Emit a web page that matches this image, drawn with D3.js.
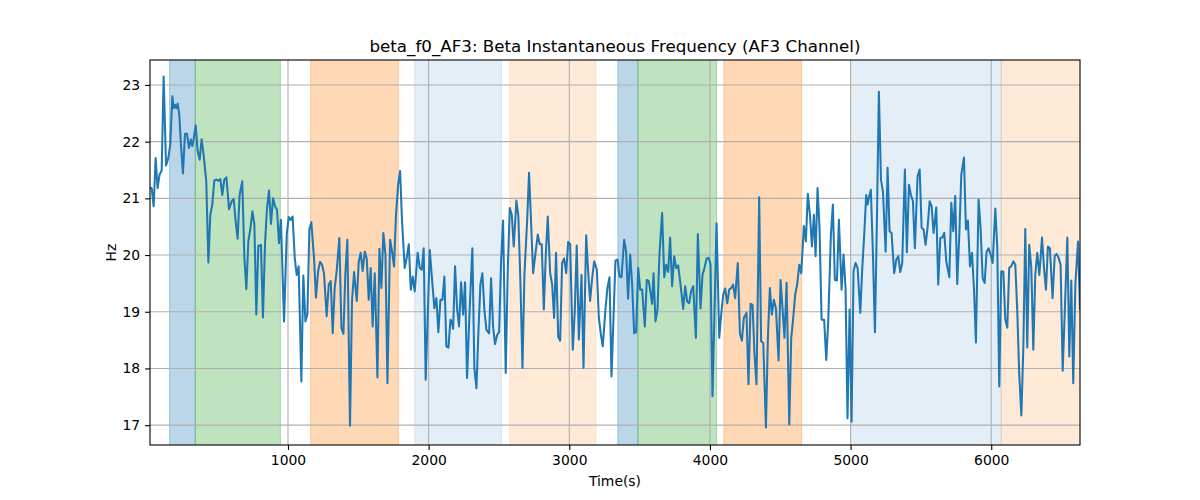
<!DOCTYPE html>
<html>
<head>
<meta charset="utf-8">
<script src="https://cdn.jsdelivr.net/npm/d3@7"></script>
<style>
  html, body { margin: 0; padding: 0; background: #fff; }
  svg { display: block; font-family: "DejaVu Sans", sans-serif; }
</style>
</head>
<body>
<svg id="chart" width="1200" height="500"></svg>
<script>
// ---------- data ----------
const times = [
  19,31,45,59,73,87,102,116,133,149,163,178,187,197,206,216,227,239,253,268,282,296,310,320,329,344,358,372,386,400,
  419,434,448,462,476,491,505,519,533,547,562,581,600,614,628,642,656,675,690,704,718,732,747,761,775,789,808,822,837,851,
  865,879,894,908,922,936,950,
  972,991,1005,1019,1033,1048,1062,1076,1095,1109,1124,1138,1152,1166,1185,1199,1214,1228,1242,1256,1275,1290,1304,1318,1332,1346,
  1365,1380,1394,1408,1422,1441,1455,1470,1489,1503,1517,1531,1546,1560,1574,1588,1602,1617,1636,1650,1664,1678,1693,1707,1726,1740,
  1754,1768,1783,1797,1811,1830,1844,1859,1873,1887,1901,
  1922,1937,1951,1965,1979,2008,2027,2041,2055,2069,2084,2098,2112,2126,2141,2155,2164,2174,2188,2202,2216,2231,2245,2259,2273,2292,
  2311,2325,2340,2354,2368,2382,2397,2411,2430,2444,2458,2472,2487,2501,2515,2529,2548,2563,2577,2591,2605,2624,2638,2653,2667,2681,
  2700,2714,2729,2743,2757,2776,2790,2804,2819,2833,2847,
  2864,2878,2892,2906,2921,2935,2949,2963,2978,2992,3006,3025,3039,3053,3068,3087,3101,3120,3134,3148,3162,3177,3196,3210,3224,3238,
  3257,3271,3286,3300,3314,3328,3343,3357,3371,3390,3404,3418,3433,3447,3461,3475,3490,3504,3518,3537,3551,3565,3580,3589,3599,3613,
  3627,3641,3660,3675,3689,3703,3717,3731,3746,3760,3774,3788,
  3810,3824,3838,3852,3866,3881,3900,3914,3933,3947,3961,3976,3990,4004,4018,4032,4047,4066,4080,4094,4108,4123,4137,4151,4165,4179,
  4198,4213,4227,4241,4260,4274,4289,4303,4317,4331,4350,4364,4379,4398,4412,4426,4440,4454,4469,4488,4502,4516,4530,4545,4564,4578,
  4592,4606,4620,4635,4649,4668,4682,4696,4711,4725,4739,
  4751,4765,4779,4794,4812,4827,4841,4860,4874,4888,4903,4917,4936,4950,4964,4978,4993,5007,5021,5035,5050,5069,5083,5097,5111,5121,
  5130,5144,5159,5173,5187,5201,5216,5230,5249,5263,5277,5291,5310,5325,5339,5353,5367,5386,5400,5415,5429,5443,5457,5476,5491,5505,
  5519,5533,5547,5562,5576,5590,5609,5623,5638,5652,5666,5680,
  5702,5716,5730,5744,5758,5773,5787,5806,5820,5834,5849,5863,5877,5891,5910,5924,5939,5953,5967,5981,5996,6010,6029,6043,6057,6071,
  6086,6100,6114,6128,6142,6157,6171,6185,6199,6214,6228,6242,6256,6270,6285,6299,6313,6327,6342,6361,6375,6389,6403,6417,6436,6451,
  6465,6479,6493,6508,6522,6541,6555,6569,6583,6598,6617,6631
];
const beta = [
  21.19,21.18,20.86,21.71,21.18,21.42,21.49,23.15,21.58,21.71,21.95,22.80,22.59,22.65,22.59,22.67,22.48,21.95,21.44,22.14,22.14,21.89,22.04,21.92,22.04,22.29,21.83,21.68,22.04,21.77,
  21.30,19.87,20.71,20.89,21.31,21.33,21.31,21.34,21.06,21.33,21.37,20.81,20.95,20.99,20.59,20.29,21.06,21.30,19.95,19.40,20.24,20.45,20.77,20.54,18.95,20.16,20.18,18.90,20.21,20.83,
  21.14,20.55,21.00,20.86,20.80,20.21,20.62,
  18.83,20.36,20.67,20.62,20.68,19.95,19.65,19.80,17.77,19.64,18.83,18.95,20.45,20.58,19.95,19.25,19.71,19.88,19.83,19.68,18.92,19.48,19.54,18.62,19.42,19.71,
  20.30,18.71,18.61,19.68,20.27,16.99,19.18,19.70,19.19,19.88,20.04,19.72,20.06,19.94,19.21,19.77,18.74,19.68,17.84,20.11,19.42,20.39,20.01,17.74,20.27,20.06,
  19.80,20.71,21.24,21.48,20.59,19.77,19.95,20.19,19.39,19.62,19.36,
  20.04,19.77,19.74,20.12,17.80,20.09,19.48,19.06,19.24,18.64,19.21,19.21,19.62,18.39,18.37,18.86,18.83,18.70,19.80,19.06,18.74,19.52,18.95,19.52,17.83,19.06,
  20.12,18.01,17.65,18.65,19.48,19.68,19.01,18.68,18.62,19.59,18.74,18.43,18.59,18.64,19.89,20.61,17.92,19.77,20.83,20.71,20.15,20.96,20.68,19.48,18.01,19.65,
  20.59,21.45,20.54,19.68,19.98,20.36,20.19,20.19,19.04,20.01,20.68,
  19.68,19.48,18.89,20.04,18.56,18.49,19.86,19.94,19.68,20.23,20.19,18.33,19.01,20.17,18.51,19.65,18.01,20.35,19.71,19.19,19.58,19.89,19.74,18.89,18.61,18.39,
  19.04,19.42,19.61,17.86,18.86,19.90,19.92,19.62,19.61,20.27,20.06,19.23,20.01,19.48,18.62,18.64,19.77,19.39,19.39,18.74,19.56,19.54,19.30,19.14,19.68,18.83,
  19.04,20.01,20.74,19.61,19.83,19.70,20.31,19.45,19.98,19.77,19.82,19.54,
  19.05,19.45,19.18,19.15,19.36,19.45,18.54,20.37,19.06,19.65,19.77,19.94,19.95,19.84,17.51,18.95,20.56,18.54,18.95,19.30,19.41,19.15,19.39,19.42,19.48,19.24,
  19.86,18.62,18.49,18.89,18.98,17.72,19.14,19.12,18.24,17.72,21.02,18.48,18.45,16.96,18.54,19.42,18.95,19.21,19.06,18.14,19.56,19.06,18.54,19.51,17.01,18.54,
  18.89,19.30,19.48,19.83,19.68,20.51,20.24,21.08,20.71,20.15,20.71,
  19.98,21.18,20.48,18.86,18.86,18.15,18.83,20.36,20.89,19.56,19.55,20.62,19.39,20.01,19.42,17.12,19.04,17.06,19.72,19.86,19.77,18.98,19.77,20.36,21.06,20.89,
  21.01,21.15,20.01,18.64,20.59,22.88,21.33,21.12,20.06,21.54,20.42,20.39,19.68,19.92,19.98,19.70,19.86,21.51,20.05,21.24,21.06,20.95,20.12,21.39,21.51,20.48,
  20.45,20.18,20.48,20.95,20.86,20.39,20.84,19.48,20.30,20.31,20.39,19.89,
  19.61,20.92,20.42,21.04,19.49,20.36,21.42,21.72,20.45,20.61,19.80,20.04,19.42,18.46,20.98,20.48,19.59,19.51,20.06,20.12,20.01,19.86,20.82,20.12,17.68,19.71,
  19.71,18.86,18.72,19.78,19.80,19.89,19.83,19.01,17.89,17.17,18.36,20.46,18.37,20.18,19.77,18.33,19.65,20.04,19.65,20.31,19.77,19.39,20.15,20.12,19.24,19.98,
  20.02,19.95,19.83,17.96,18.95,20.31,18.21,19.55,17.74,19.48,20.24,19.05
];

// shaded segments
const spanStarts = [158, 341, 1161, 1901, 2577, 3345, 3488, 4099, 5000, 6071];
const spanEnds   = [341, 946, 1785, 2518, 3189, 3488, 4047, 4652, 6071, 6700];
const spanKinds  = ["blue", "green", "orange", "paleBlue", "paleOrange", "blue", "green", "orange", "paleBlue", "paleOrange"];

const xTicks = [1000, 2000, 3000, 4000, 5000, 6000];
const yTicks = [17, 18, 19, 20, 21, 22, 23];

const titleText = "beta_f0_AF3: Beta Instantaneous Frequency (AF3 Channel)";
const xLabel = "Time(s)";
const yLabel = "Hz";

// ---------- styling ----------
const kindStyle = {
  blue:       { color: "#1f77b4", alpha: 0.3 },
  green:      { color: "#2ca02c", alpha: 0.3 },
  orange:     { color: "#ff7f0e", alpha: 0.3 },
  paleBlue:   { color: "#1f77b4", alpha: 0.12 },
  paleOrange: { color: "#ff7f0e", alpha: 0.16 }
};

const margin = { left: 150, right: 120, top: 60, bottom: 55 };
const W = 1200, H = 500;
const iw = W - margin.left - margin.right; // 930
const ih = H - margin.top - margin.bottom; // 385

const svg = d3.select("#chart");
const g = svg.append("g").attr("transform", `translate(${margin.left},${margin.top})`);

const x = d3.scaleLinear().domain(d3.extent(times)).range([0, iw]);
const y = d3.scaleLinear().domain([16.65, 23.44]).range([ih, 0]);

svg.append("defs").append("clipPath").attr("id", "clip")
  .append("rect").attr("width", iw).attr("height", ih);

const plot = g.append("g").attr("clip-path", "url(#clip)");

// spans
const spans = spanStarts.map((s, i) => ({ s, e: spanEnds[i], k: spanKinds[i] }));
plot.append("g").selectAll("rect").data(spans).join("rect")
  .attr("x", d => x(d.s))
  .attr("width", d => x(d.e) - x(d.s))
  .attr("y", -5)
  .attr("height", ih + 10)
  .attr("fill", d => kindStyle[d.k].color)
  .attr("fill-opacity", d => kindStyle[d.k].alpha)
  .attr("stroke", d => kindStyle[d.k].color)
  .attr("stroke-opacity", d => kindStyle[d.k].alpha)
  .attr("stroke-width", 1.1);

// grid
const grid = plot.append("g").attr("stroke", "#b0b0b0").attr("stroke-width", 1.1);
grid.selectAll("line.gx").data(xTicks).join("line").attr("class", "gx")
  .attr("x1", d => x(d)).attr("x2", d => x(d)).attr("y1", 0).attr("y2", ih);
grid.selectAll("line.gy").data(yTicks).join("line").attr("class", "gy")
  .attr("y1", d => y(d)).attr("y2", d => y(d)).attr("x1", 0).attr("x2", iw);

// line
const pts = times.map((t, i) => [t, beta[i]]);
plot.append("path")
  .datum(pts)
  .attr("fill", "none")
  .attr("stroke", "#1f77b4")
  .attr("stroke-width", 2.05)
  .attr("stroke-linejoin", "round")
  .attr("stroke-linecap", "square")
  .attr("d", d3.line().x(d => x(d[0])).y(d => y(d[1])));

// axes
const xAxis = d3.axisBottom(x).tickValues(xTicks).tickSize(4.9).tickPadding(4.9).tickFormat(d3.format("d"));
const yAxis = d3.axisLeft(y).tickValues(yTicks).tickSize(4.9).tickPadding(4.9).tickFormat(d3.format("d"));

const gx = g.append("g").attr("transform", `translate(0,${ih})`).call(xAxis);
const gy = g.append("g").call(yAxis);
[gx, gy].forEach(a => {
  a.select(".domain").remove();
  a.selectAll(".tick line").attr("stroke", "#000").attr("stroke-width", 1.1);
  a.selectAll(".tick text").attr("fill", "#000").style("font-size", "13.9px").style("font-family", "DejaVu Sans");
});

// spines
g.append("rect").attr("x", 0).attr("y", 0).attr("width", iw).attr("height", ih)
  .attr("fill", "none").attr("stroke", "#000").attr("stroke-width", 1.1);

// labels
svg.append("text").attr("x", margin.left + iw / 2).attr("y", 52)
  .attr("text-anchor", "middle").style("font-size", "16.7px").attr("fill", "#000").text(titleText);
svg.append("text").attr("x", margin.left + iw / 2).attr("y", 486)
  .attr("text-anchor", "middle").style("font-size", "13.9px").attr("fill", "#000").text(xLabel);
svg.append("text").attr("transform", `translate(116,${margin.top + ih / 2}) rotate(-90)`)
  .attr("text-anchor", "middle").style("font-size", "13.9px").attr("fill", "#000").text(yLabel);
</script>
</body>
</html>
